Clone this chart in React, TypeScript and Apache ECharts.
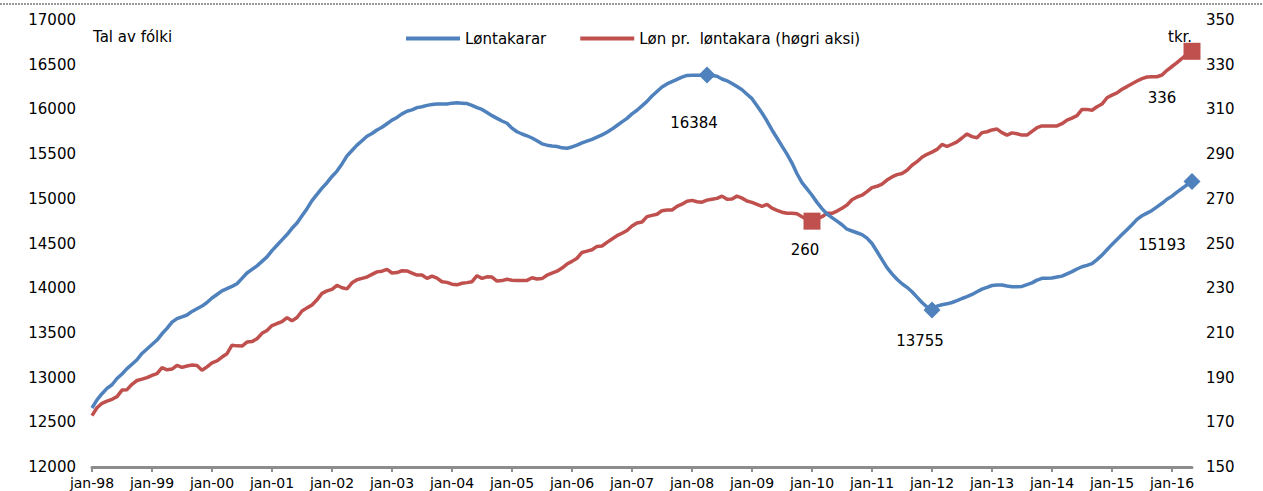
import React, { useEffect, useRef } from "react";
import * as echarts from "echarts";

const monthNames = ["jan", "feb", "mar", "apr", "mai", "jun", "jul", "aug", "sep", "okt", "nov", "des"];
const yearNames = ["98", "99", "00", "01", "02", "03", "04", "05", "06", "07", "08", "09", "10", "11", "12", "13", "14", "15", "16"];

const loentakarar = [
  12660, 12750, 12820, 12880, 12920, 12990, 13040, 13100, 13150, 13200, 13270, 13320,
  13370, 13420, 13490, 13550, 13620, 13660, 13680, 13700, 13740, 13770, 13800, 13840,
  13890, 13930, 13970, 13995, 14020, 14050, 14110, 14170, 14210, 14250, 14300, 14350,
  14420, 14480, 14540, 14600, 14670, 14730, 14810, 14890, 14980, 15050, 15120, 15180,
  15250, 15310, 15390, 15480, 15540, 15600, 15650, 15700, 15730, 15770, 15800, 15840,
  15880, 15910, 15950, 15980, 15995, 16020, 16030, 16045, 16055, 16060, 16060, 16060,
  16070, 16075, 16070, 16065, 16045, 16020, 16000, 15965, 15930, 15900, 15870, 15845,
  15790, 15750, 15725, 15705, 15680, 15650, 15615, 15600, 15590, 15585, 15570, 15565,
  15580, 15600, 15625, 15645, 15665, 15690, 15715, 15745, 15780, 15820, 15860, 15900,
  15950, 15990, 16040, 16090, 16150, 16200, 16250, 16285, 16310, 16335, 16360, 16380,
  16382, 16383, 16383, 16384, 16380, 16370, 16340, 16320, 16290, 16255, 16220, 16170,
  16120, 16040, 15960, 15870, 15770, 15680, 15590, 15500, 15400, 15280, 15180, 15110,
  15040, 14960, 14890, 14830, 14790, 14750, 14710, 14660, 14640, 14620, 14600, 14560,
  14500, 14410, 14320, 14230, 14160, 14100, 14050, 14010, 13960, 13900, 13840, 13790,
  13755, 13800, 13815, 13825, 13840, 13860, 13885, 13905, 13930, 13960, 13990, 14010,
  14030, 14036, 14036, 14025, 14017, 14017, 14020, 14040, 14060, 14090, 14111, 14111,
  14115, 14125, 14135, 14160, 14185, 14215, 14240, 14255, 14275, 14320, 14370, 14430,
  14490, 14545, 14600, 14655, 14710, 14770, 14810, 14840, 14870, 14910, 14950, 14995,
  15030, 15075, 15115, 15155, 15193,
];

const loenPrLoentakara = [
  173, 176.5, 178.5, 179.5, 180.3, 181.5, 184.4, 184.6, 187, 188.7, 189.3, 190,
  191, 191.8, 194.5, 193.5, 193.8, 195.5, 194.6, 195.2, 195.6, 195.4, 193.3, 194.8,
  196.6, 197.5, 199.2, 200.7, 204.5, 204.2, 204.1, 205.9, 206.1, 207.4, 209.8, 211.1,
  213.3, 214.2, 215, 216.8, 215.4, 216.9, 219.8, 221.2, 222.5, 224.8, 227.7, 228.8,
  229.5, 231.3, 230.2, 229.7, 232.4, 233.8, 234.4, 235, 236.2, 237.3, 237.6, 238.4,
  236.8, 237, 237.8, 237.7, 236.8, 235.9, 235.9, 234.4, 235.4, 234.5, 232.9, 232.6,
  231.8, 231.5, 232.2, 232.5, 232.9, 235.6, 234.4, 235.1, 235, 233.2, 233.4, 234,
  233.6, 233.4, 233.4, 233.5, 234.7, 234.1, 234.3, 235.8, 236.7, 237.6, 239, 240.8,
  242, 243.4, 246, 246.6, 247.2, 248.7, 248.9, 250.5, 252, 253.5, 254.6, 255.8,
  257.8, 259.2, 259.6, 262, 262.6, 263.1, 264.7, 265, 265, 266.6, 267.6, 268.9,
  269.3, 268.7, 268.5, 269.4, 269.8, 270.2, 271.2, 269.8, 269.9, 271.2, 270.3, 269,
  268.4, 267.5, 266.6, 267.5, 265.8, 264.8, 264, 263.5, 263.5, 263.3, 262, 260.8,
  260, 261, 262, 263.5, 263.5, 264.5, 265.8, 267.2, 269.6, 270.8, 271.6, 273.2,
  275, 275.6, 276.6, 278.4, 279.8, 280.8, 281.3, 282.8, 285, 286.6, 288.6, 289.9,
  290.9, 292.1, 294.3, 293.4, 294.4, 295.5, 297.2, 299, 297.8, 297.3, 299.6, 300,
  300.8, 301.2, 299.6, 298.5, 299.5, 299.1, 298.5, 298.5, 300.2, 301.8, 302.6, 302.6,
  302.6, 302.6, 303.6, 305.2, 306.1, 307.2, 310, 310, 309.6, 311.2, 312.4, 315.2,
  316.4, 317.4, 319, 320.2, 321.5, 322.7, 323.8, 324.5, 324.6, 324.6, 325.4, 327.5,
  329.2, 330.9, 332.8, 334.8, 336,
];

const leftTicks = { min: 12000, max: 17000, interval: 500 };
const rightTicks = { min: 150, max: 350, interval: 20 };

const categories = yearNames
  .flatMap((y) => monthNames.map((m) => `${m}-${y}`))
  .slice(0, loentakarar.length);

const FONT = "DejaVu Sans";
const BLUE = "#4F81BD";
const RED = "#C0504D";

export default function App() {
  const ref = useRef<HTMLDivElement>(null);
  useEffect(() => {
    if (!ref.current) return;
    const chart = echarts.init(ref.current, undefined, { renderer: "svg" });

    const blueMarks: Record<number, [number, number]> = {
      123: [-13, 48],
      168: [-12, 31],
      220: [-30, 63],
    };
    const redMarks: Record<number, [number, number]> = {
      144: [-7, 29],
      220: [-30, 47],
    };

    const labelStyle = { fontFamily: FONT, fontSize: 15, color: "#000" };

    const blueData = loentakarar.map((v, i) =>
      blueMarks[i]
        ? {
            value: v,
            symbol: "diamond",
            symbolSize: 17,
            label: { show: true, position: "inside", offset: blueMarks[i], formatter: String(v), ...labelStyle },
          }
        : { value: v, symbol: "none" }
    );
    const redData = loenPrLoentakara.map((v, i) =>
      redMarks[i]
        ? {
            value: v,
            symbol: "rect",
            symbolSize: 17,
            label: { show: true, position: "inside", offset: redMarks[i], formatter: String(Math.round(v)), ...labelStyle },
          }
        : { value: v, symbol: "none" }
    );

    chart.setOption({
      animation: false,
      backgroundColor: "#fff",
      textStyle: { fontFamily: FONT },
      grid: { left: 92, right: 71, top: 20, bottom: 24, containLabel: false },
      legend: {
        left: 401,
        top: 26,
        icon: "rect",
        itemWidth: 54,
        itemHeight: 4,
        itemGap: 34,
        textStyle: { fontFamily: FONT, fontSize: 15, color: "#000" },
        data: ["Løntakarar", "Løn pr.  løntakara (høgri aksi)"],
      },
      graphic: [
        {
          type: "line",
          shape: { x1: 0, y1: 4, x2: 1263, y2: 4 },
          style: { stroke: "#999", lineWidth: 2, lineDash: [2, 1] },
        },
        {
          type: "text",
          left: 93,
          top: 29,
          style: { text: "Tal av fólki", fontFamily: FONT, fontSize: 15, fill: "#000" },
        },
        {
          type: "text",
          left: 1168,
          top: 29,
          style: { text: "tkr.", fontFamily: FONT, fontSize: 15, fill: "#000" },
        },
      ],
      xAxis: {
        type: "category",
        data: categories,
        boundaryGap: false,
        axisLine: { lineStyle: { color: "#8c8c8c", width: 3 } },
        axisTick: { interval: (i: number) => i % 12 === 0, length: 5, lineStyle: { color: "#8c8c8c", width: 2 } },
        axisLabel: {
          interval: (i: number) => i % 12 === 0,
          margin: 9,
          fontFamily: FONT,
          fontSize: 14,
          color: "#000",
        },
        splitLine: { show: false },
      },
      yAxis: [
        {
          type: "value",
          ...leftTicks,
          axisLine: { show: false },
          axisTick: { show: false },
          splitLine: { show: false },
          axisLabel: { margin: 16, fontFamily: FONT, fontSize: 15, color: "#000", formatter: (v: number) => String(v) },
        },
        {
          type: "value",
          position: "right",
          ...rightTicks,
          axisLine: { show: false },
          axisTick: { show: false },
          splitLine: { show: false },
          axisLabel: { margin: 14, fontFamily: FONT, fontSize: 15, color: "#000", formatter: (v: number) => String(v) },
        },
      ],
      series: [
        {
          name: "Løntakarar",
          type: "line",
          yAxisIndex: 0,
          data: blueData,
          showAllSymbol: true,
          lineStyle: { color: BLUE, width: 3.5 },
          itemStyle: { color: BLUE },
          emphasis: { disabled: true },
          z: 3,
        },
        {
          name: "Løn pr.  løntakara (høgri aksi)",
          type: "line",
          yAxisIndex: 1,
          data: redData,
          showAllSymbol: true,
          lineStyle: { color: RED, width: 3.5 },
          itemStyle: { color: RED },
          emphasis: { disabled: true },
          z: 2,
        },
      ],
    });
    return () => chart.dispose();
  }, []);

  return (
    <div
      ref={ref}
      style={{ position: "fixed", left: 0, top: 0, width: 1263, height: 491 }}
    />
  );
}
